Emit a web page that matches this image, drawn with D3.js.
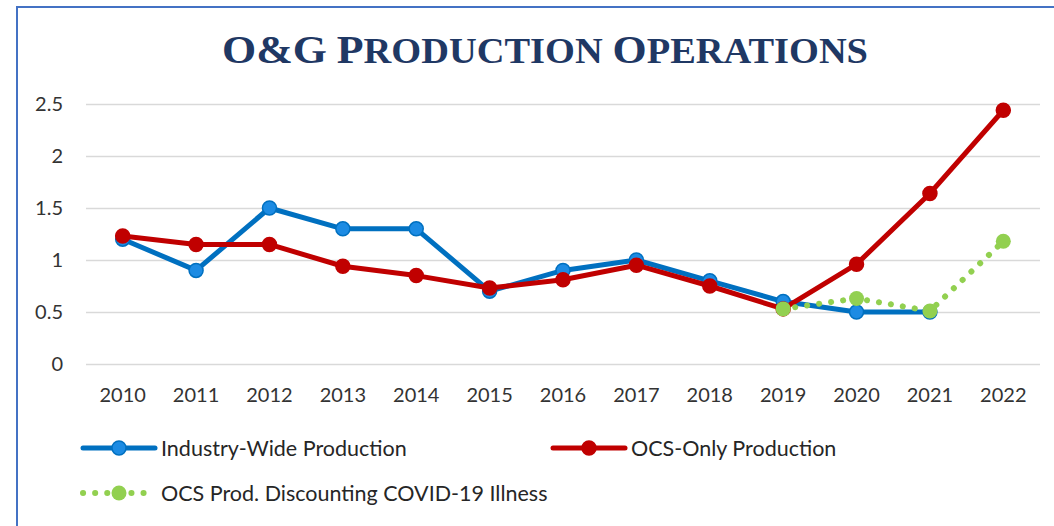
<!DOCTYPE html>
<html>
<head>
<meta charset="utf-8">
<script src="https://cdn.jsdelivr.net/npm/d3@7"></script>
<style>
  body { margin: 0; background: #fff; }
  svg { display: block; }
</style>
</head>
<body>
<svg></svg>
<script>
(() => {
    const width = 1054;
    const height = 526;

    const years = ["2010", "2011", "2012", "2013", "2014", "2015", "2016",
        "2017", "2018", "2019", "2020", "2021", "2022"];
    const industryWide = [1.2, 0.9, 1.5, 1.3, 1.3, 0.7, 0.9, 1.0, 0.8, 0.6, 0.5, 0.5, null];
    const ocsOnly = [1.23, 1.15, 1.15, 0.94, 0.85, 0.73, 0.81, 0.95, 0.75, 0.53, 0.96, 1.64, 2.44];
    const ocsCovid = [null, null, null, null, null, null, null, null, null, 0.53, 0.63, 0.51, 1.18];
    const yTicks = [0, 0.5, 1, 1.5, 2, 2.5];

    const svg = d3.select("svg")
        .attr("width", width)
        .attr("height", height);

    // frame (only top + left edge visible)
    svg.append("path")
        .attr("d", "M17,526 V7 H1054")
        .attr("fill", "none")
        .attr("stroke", "#4472C4")
        .attr("stroke-width", 2);

    // title in small caps: capitals bigger, rest smaller
    const titleParts = [["O&G", 40], [" ", 36], ["P", 40], ["RODUCTION", 35], [" ", 36], ["O", 40], ["PERATIONS", 35]];
    const title = svg.append("text")
        .attr("x", 545)
        .attr("y", 63)
        .attr("text-anchor", "middle")
        .attr("textLength", 646)
        .attr("lengthAdjust", "spacingAndGlyphs")
        .attr("font-family", "Liberation Serif, serif")
        .attr("font-weight", "bold")
        .attr("fill", "#1F3864");
    titleParts.forEach(p => {
        title.append("tspan").attr("font-size", p[1]).text(p[0]);
    });

    const x = d3.scaleBand()
        .domain(years)
        .range([86, 1040]);

    const y = d3.scaleLinear()
        .domain([0, 2.5])
        .range([364, 104]);

    const cx = d => x(d) + x.bandwidth() / 2;

    // gridlines + y labels
    const yAxis = svg.append("g")
        .call(d3.axisLeft(y).tickValues(yTicks).tickSize(-(1040 - 86)).tickPadding(23)
            .tickFormat(d3.format("")))
        .attr("transform", "translate(86,0)");
    yAxis.select(".domain").remove();
    yAxis.selectAll("line").attr("stroke", "#d9d9d9").attr("stroke-width", 1.5);
    yAxis.selectAll("text")
        .attr("font-family", "Lato, sans-serif")
        .attr("font-size", 20)
        .attr("fill", "#333");

    const xAxis = svg.append("g")
        .attr("transform", "translate(0,364)")
        .call(d3.axisBottom(x).tickSize(0).tickPadding(24));
    xAxis.select(".domain").remove();
    xAxis.selectAll("text")
        .attr("font-family", "Lato, sans-serif")
        .attr("font-size", 20)
        .attr("fill", "#333");

    const series = [
        { name: "Industry-Wide Production", values: industryWide, stroke: "#0070C0", fill: "#1C8BE3", width: 5, r: 7, dash: null },
        { name: "OCS-Only Production", values: ocsOnly, stroke: "#C00000", fill: "#C00000", width: 5, r: 7, dash: null },
        { name: "OCS Prod. Discounting COVID-19 Illness", values: ocsCovid, stroke: "#92D050", fill: "#92D050", width: 4, r: 7.5, dash: "0.1,12" }
    ];

    const line = d3.line()
        .defined(d => d.v != null)
        .x(d => cx(d.year))
        .y(d => y(d.v));

    series.forEach(s => {
        const pts = years.map((year, i) => ({ year: year, v: s.values[i] }));
        const g = svg.append("g");
        g.append("path")
            .datum(pts)
            .attr("d", line)
            .attr("fill", "none")
            .attr("stroke", s.stroke)
            .attr("stroke-width", s.dash ? 6 : s.width)
            .attr("stroke-linecap", s.dash ? "round" : "butt")
            .attr("stroke-linejoin", "round")
            .attr("stroke-dasharray", s.dash);
        g.selectAll("circle")
            .data(pts.filter(d => d.v != null))
            .enter()
            .append("circle")
            .attr("cx", d => cx(d.year))
            .attr("cy", d => y(d.v))
            .attr("r", s.r)
            .attr("fill", s.fill)
            .attr("stroke", s.stroke)
            .attr("stroke-width", s.dash ? 0 : 1.5);
    });

    // legend
    const legendPos = [[83, 448], [553, 448], [83, 493]];
    series.forEach((s, i) => {
        const [lx, ly] = legendPos[i];
        const g = svg.append("g").attr("transform", `translate(${lx},${ly})`);
        g.append("line")
            .attr("x1", 0).attr("x2", 72)
            .attr("y1", 0).attr("y2", 0)
            .attr("stroke", s.stroke)
            .attr("stroke-width", s.dash ? 6 : s.width)
            .attr("stroke-linecap", "round")
            .attr("stroke-dasharray", s.dash);
        g.append("circle")
            .attr("cx", 36).attr("cy", 0)
            .attr("r", s.r)
            .attr("fill", s.fill)
            .attr("stroke", s.stroke)
            .attr("stroke-width", s.dash ? 0 : 1.5);
        g.append("text")
            .attr("x", 78)
            .attr("y", 7.5)
            .attr("font-family", "Lato, sans-serif")
            .attr("font-size", 21.5)
            .attr("fill", "#262626")
            .text(s.name);
    });
})();
</script>
</body>
</html>
